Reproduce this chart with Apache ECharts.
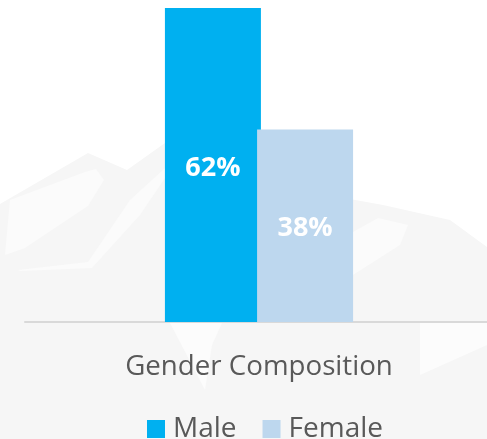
<!DOCTYPE html>
<html>
<head>
<meta charset="utf-8">
<script src="https://cdn.jsdelivr.net/npm/echarts@6/dist/echarts.min.js"></script>
<style>
  html, body { margin: 0; padding: 0; background: #fff; }
  #chart { width: 487px; height: 439px; }
</style>
</head>
<body>
<div id="chart"></div>
<script>
var categories = ["Gender Composition"];
var maleValues = [62];
var femaleValues = [38];

var myChart = echarts.init(document.getElementById("chart"));

// faint mountain watermark behind the plot
var bgShapes = [
  {
    type: "polygon",
    z: -10,
    shape: {
      points: [[0, 204], [88, 153], [127, 170], [165, 143], [230, 115], [300, 190], [383, 205],
        [450, 220], [487, 247], [487, 439], [0, 439]]
    },
    style: { fill: "#f6f6f6" }
  },
  {
    type: "polygon",
    z: -9,
    shape: { points: [[10, 200], [85, 172], [96, 169], [104, 180], [88, 206], [25, 248], [5, 255]] },
    style: { fill: "#fbfbfb" }
  },
  {
    type: "polygon",
    z: -9,
    shape: { points: [[18, 270], [88, 262], [130, 200], [165, 168], [165, 178], [140, 215], [92, 268], [20, 271]] },
    style: { fill: "#fbfbfb" }
  },
  {
    type: "polygon",
    z: -9,
    shape: { points: [[353, 232], [378, 218], [408, 225], [400, 245], [353, 275]] },
    style: { fill: "#fbfbfb" }
  },
  {
    type: "polygon",
    z: -9,
    shape: { points: [[170, 323], [222, 323], [212, 345], [205, 390]] },
    style: { fill: "#fcfcfc" }
  },
  {
    type: "polygon",
    z: -9,
    shape: { points: [[420, 323], [487, 323], [487, 345], [420, 375]] },
    style: { fill: "#fcfcfc" }
  }
];

var option = {
  animation: false,
  textStyle: { fontFamily: "Open Sans" },
  graphic: bgShapes,
  grid: {
    left: 25,
    right: -6,
    top: 8,
    bottom: 117,
    outerBoundsMode: "none"
  },
  legend: {
    top: 410,
    left: 142,
    itemWidth: 18,
    itemHeight: 18,
    itemGap: 26,
    icon: "rect",
    textStyle: {
      fontSize: 28,
      color: "#595959",
      padding: [0, 0, 0, 3]
    },
    data: ["Male", "Female"]
  },
  xAxis: {
    type: "category",
    data: categories,
    axisLine: { lineStyle: { color: "#d9d9d9", width: 2 } },
    axisTick: { show: false },
    axisLabel: {
      fontSize: 27.7,
      color: "#595959",
      margin: 31
    }
  },
  yAxis: {
    type: "value",
    min: 0,
    max: 62,
    show: false,
    splitLine: { show: false }
  },
  series: [
    {
      name: "Male",
      type: "bar",
      data: maleValues,
      barWidth: 96,
      barGap: "-4%",
      itemStyle: { color: "#00b0f0" },
      label: {
        show: true,
        position: "inside",
        offset: [0, 3],
        formatter: "{c}%",
        color: "#ffffff",
        fontWeight: "bold",
        fontSize: 27
      }
    },
    {
      name: "Female",
      type: "bar",
      data: femaleValues,
      barWidth: 96,
      itemStyle: { color: "#bdd7ee" },
      label: {
        show: true,
        position: "inside",
        offset: [0, 3],
        formatter: "{c}%",
        color: "#ffffff",
        fontWeight: "bold",
        fontSize: 27
      }
    }
  ]
};

myChart.setOption(option);
</script>
</body>
</html>
